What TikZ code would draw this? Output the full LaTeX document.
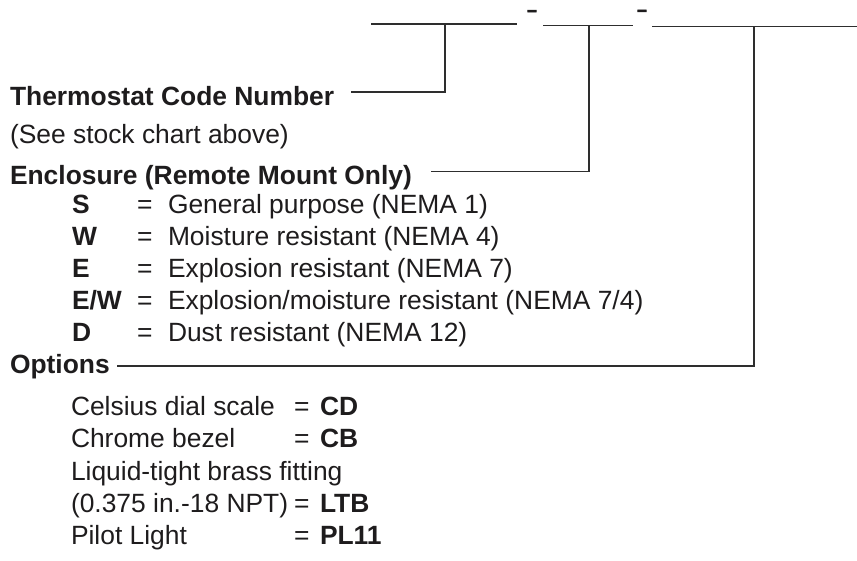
\documentclass[tikz,border=0pt]{standalone}
\usepackage{fontspec}
\setmainfont{Liberation Sans}
\newfontfamily\dashfont{Liberation Sans}[UprightFont={* Bold}, FakeBold=3]
\definecolor{txt}{HTML}{1E1C1D}
\definecolor{lnc}{HTML}{2E2E2E}
\begin{document}
\begin{tikzpicture}[x=1pt,y=-1pt,
  lbl/.style={anchor=base west, inner sep=0pt, outer sep=0pt, text=txt, font=\fontsize{26.4}{31}\selectfont},
  hd/.style={lbl, font=\fontsize{26.4}{31}\selectfont\bfseries},
  dashmark/.style={anchor=base, inner sep=0pt, outer sep=0pt, text=txt, xscale=2, font=\dashfont\fontsize{16.5}{18}\selectfont},
  ln/.style={draw=lnc, line width=1.2pt}]
\useasboundingbox (0,0) rectangle (857,560);

% top code fields
\coordinate (l1a) at (371,24);   \coordinate (l1b) at (517,24);
\coordinate (l2a) at (543,25.5); \coordinate (l2b) at (633,25.5);
\coordinate (l3a) at (652,26.5); \coordinate (l3b) at (857,26.5);
\draw[ln] (l1a) -- (l1b);
\draw[ln] (l2a) -- (l2b);
\draw[ln] (l3a) -- (l3b);
\node[dashmark] (d1) at (532,15.5) {-};
\node[dashmark] (d2) at (642,15.2) {-};

% drop points on the fields
\coordinate (c1) at (445,24);
\coordinate (c2) at (589,25.5);
\coordinate (c3) at (754,26.5);

% headings
\node[hd]  (therm) at (10,105) {Thermostat Code Number};
\node[lbl] (see)   at (10,143) {(See stock chart above)};
\node[hd]  (encl)  at (10,184) {Enclosure (Remote Mount Only)};
\node[hd]  (opt)   at (10,373) {Options};

% leader starts
\coordinate (t1) at (351,92);
\coordinate (t2) at (431,171.5);
\coordinate (t3) at (117,366);
\draw[ln] (t1) -| (c1);
\draw[ln] (t2) -| (c2);
\draw[ln] (t3) -| (c3);

% enclosure codes
\node[hd]  (kS)  at (72,213) {S};
\node[lbl] (eS)  at (137,213) {=};
\node[lbl] (vS)  at (168,213) {General purpose (NEMA 1)};
\node[hd]  (kW)  at (72,245) {W};
\node[lbl] (eW)  at (137,245) {=};
\node[lbl] (vW)  at (168,245) {Moisture resistant (NEMA 4)};
\node[hd]  (kE)  at (72,277) {E};
\node[lbl] (eE)  at (137,277) {=};
\node[lbl] (vE)  at (168,277) {Explosion resistant (NEMA 7)};
\node[hd]  (kEW) at (72,309) {E/W};
\node[lbl] (eEW) at (137,309) {=};
\node[lbl] (vEW) at (168,309) {Explosion/moisture resistant (NEMA 7/4)};
\node[hd]  (kD)  at (72,341) {D};
\node[lbl] (eD)  at (137,341) {=};
\node[lbl] (vD)  at (168,341) {Dust resistant (NEMA 12)};

% options
\node[lbl] (oCD)  at (71,415) {Celsius dial scale};
\node[lbl] (qCD)  at (294,415) {=};
\node[hd]  (vCD)  at (320,415) {CD};
\node[lbl] (oCB)  at (71,447) {Chrome bezel};
\node[lbl] (qCB)  at (294,447) {=};
\node[hd]  (vCB)  at (320,447) {CB};
\node[lbl] (oLT1) at (71,480) {Liquid-tight brass fitting};
\node[lbl] (oLT2) at (71,512) {(0.375 in.-18 NPT)};
\node[lbl] (qLT)  at (294,512) {=};
\node[hd]  (vLT)  at (320,512) {LTB};
\node[lbl] (oPL)  at (71,544) {Pilot Light};
\node[lbl] (qPL)  at (294,544) {=};
\node[hd]  (vPL)  at (320,544) {PL11};
\end{tikzpicture}
\end{document}
